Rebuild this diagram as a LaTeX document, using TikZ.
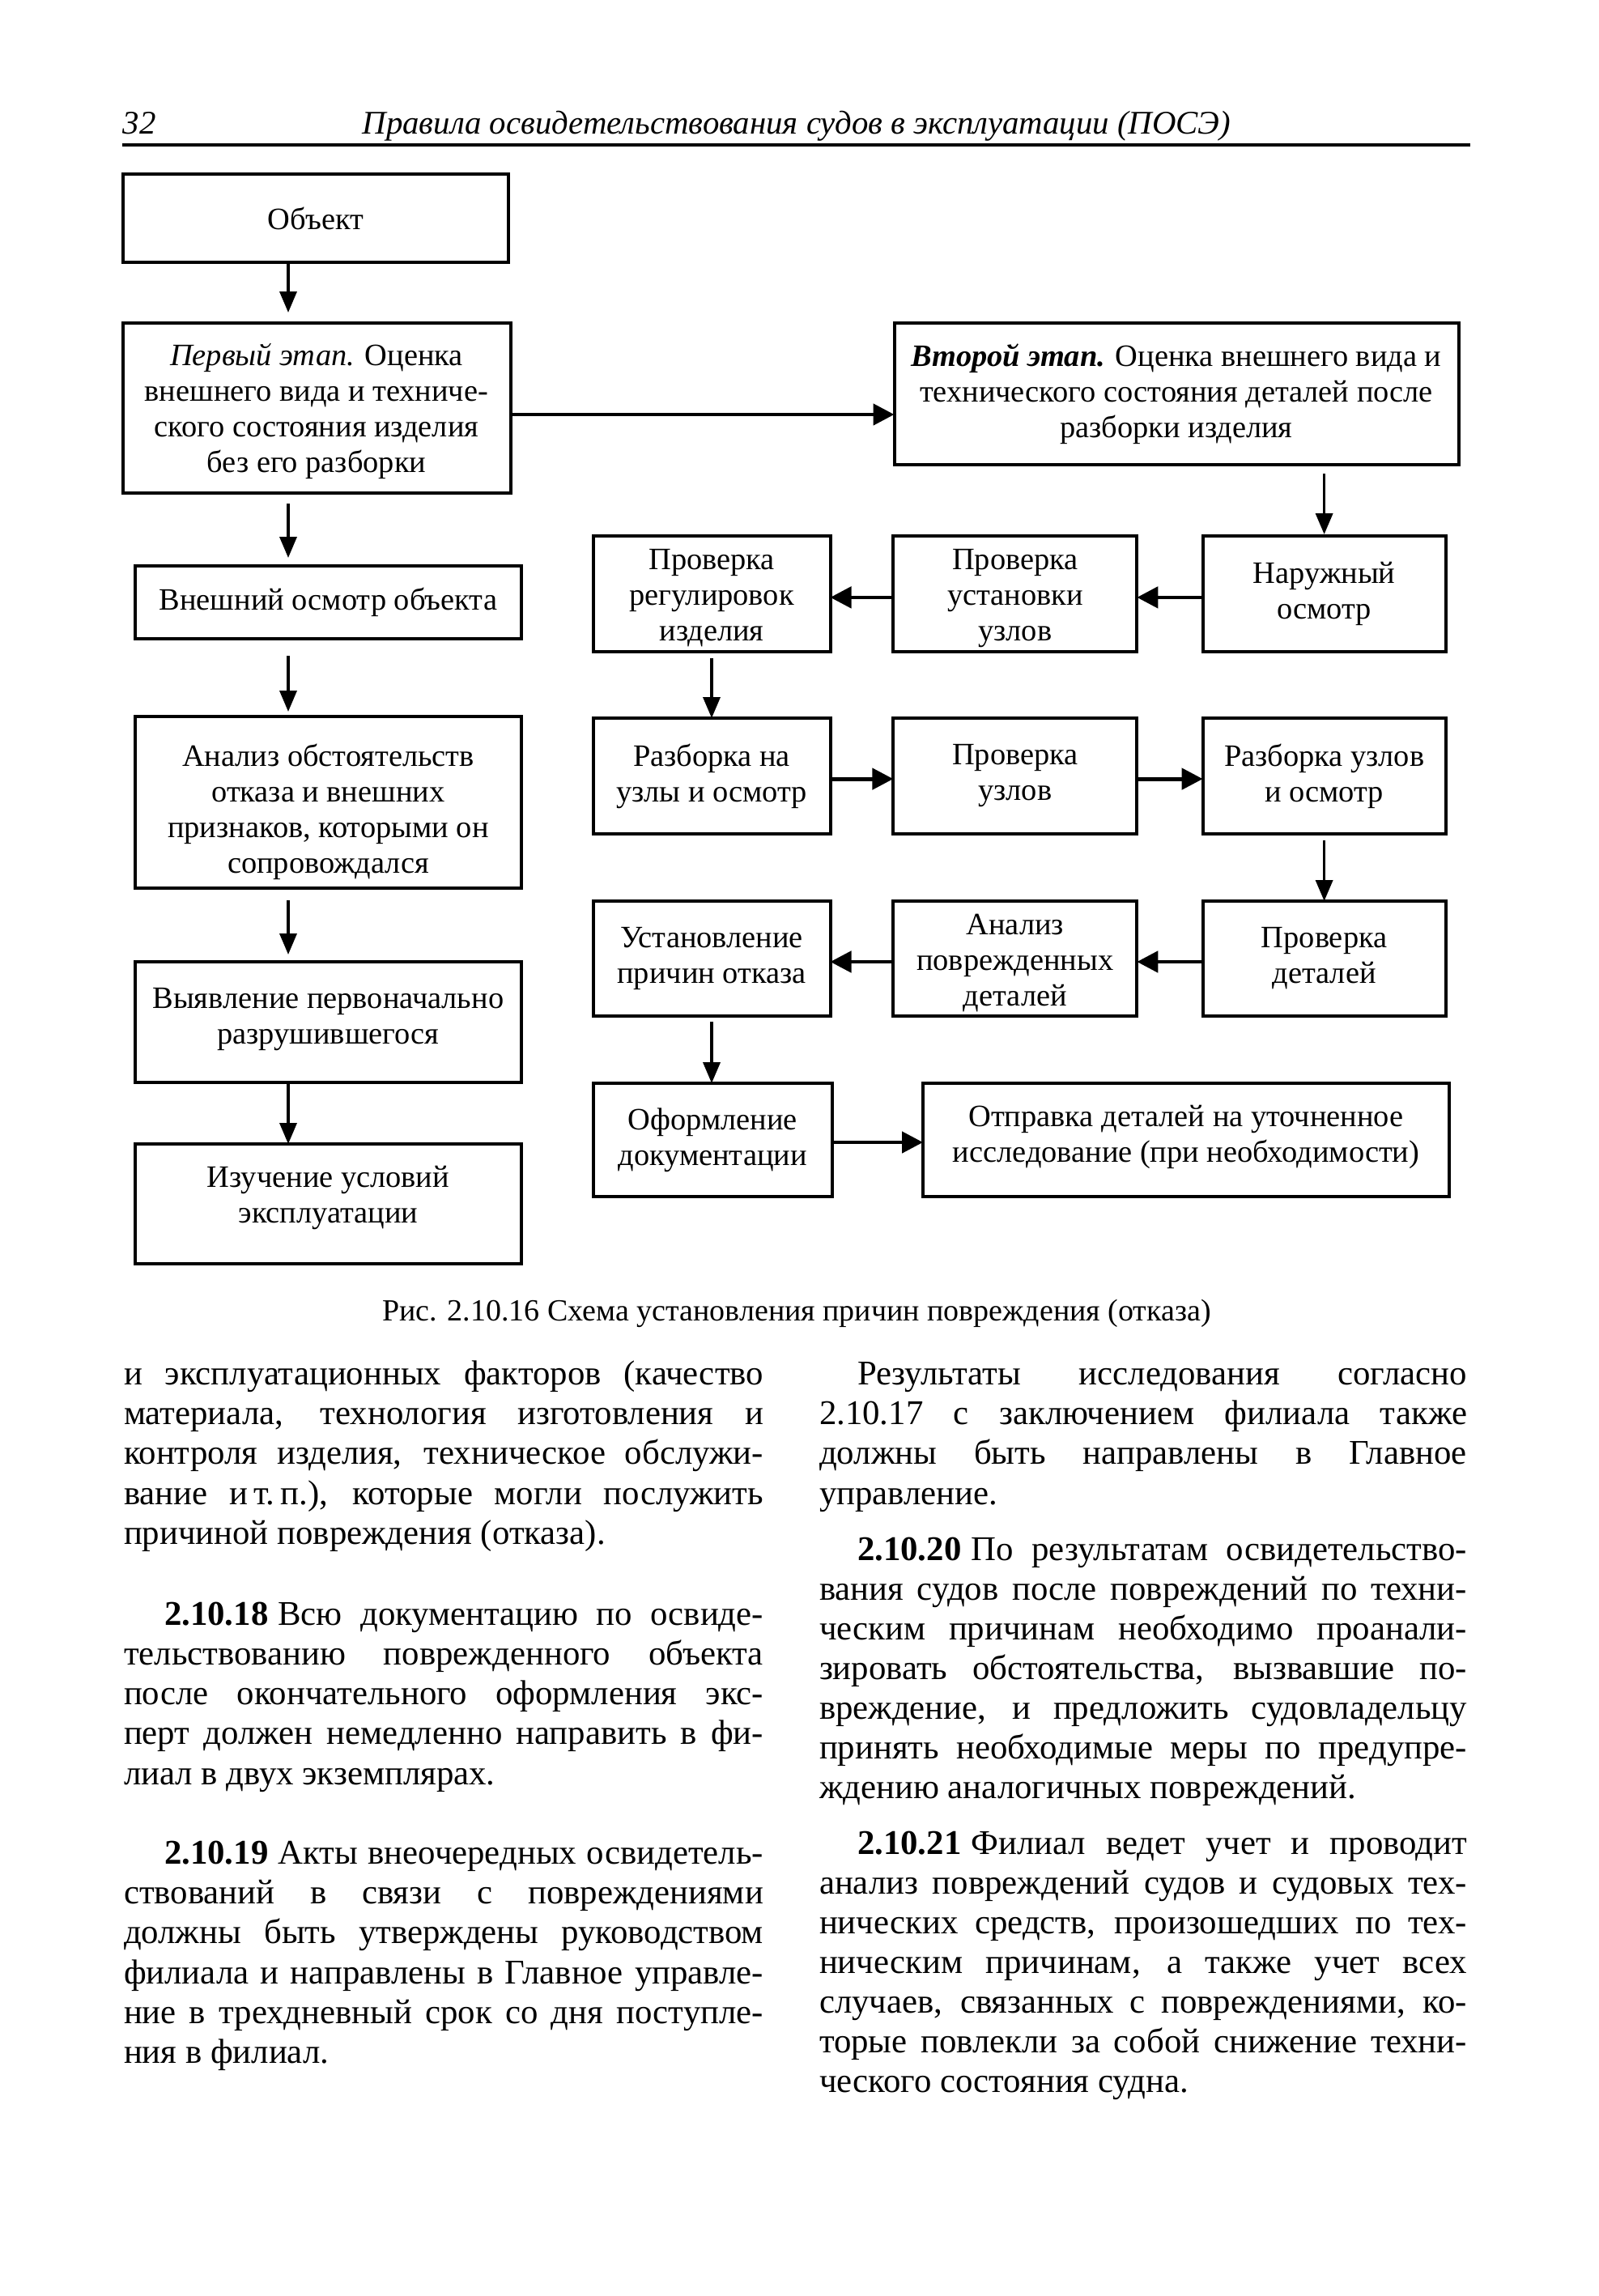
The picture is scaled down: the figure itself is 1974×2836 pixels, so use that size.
\documentclass[tikz,border=0pt]{standalone}
\usepackage{fontspec}
\setmainfont{Liberation Serif}
\usetikzlibrary{arrows.meta}
\newcommand\bodyfont{\fontsize{10.7}{12.3}\selectfont}
\newcommand\boxfont{\fontsize{9.6}{11}\selectfont}
\newcommand\capfont{\fontsize{9.5}{11}\selectfont}
\newcommand\headfont{\fontsize{10.2}{12}\selectfont\itshape}
\newcommand\jl[2]{\hbox to #1{\spaceskip=.25em plus 1fil minus .08em\relax #2}}
\newcommand\nm[1]{\textbf{#1}\hskip 3pt\relax}
\newcommand\lowr[2]{\raisebox{#1}[\height][\depth]{\begin{tabular}{@{}c@{}}#2\end{tabular}}}
\begin{document}
\begin{tikzpicture}[x=0.25pt,y=-0.25pt,
  box/.style={draw, line width=1pt, rectangle, inner sep=0pt, outer sep=0pt, align=center, font=\boxfont},
  varr/.style={line width=0.9pt, -{Triangle[length=6.5pt,width=5.25pt]}},
  harr/.style={line width=1.2pt, -{Triangle[length=6.5pt,width=6.5pt]}},
  tl/.style={anchor=base west, inner sep=0pt, outer sep=0pt, font=\bodyfont}]
\useasboundingbox (0,0) rectangle (1974,2836);
\fill[white] (0,0) rectangle (1974,2836);
% header
\node[anchor=base west, inner sep=0pt, font=\headfont] (pg) at (151,166) {32};
\node[anchor=base, inner sep=0pt, font=\headfont] (ttl) at (984,166) {Правила освидетельствования судов в эксплуатации (ПОСЭ)};
\coordinate (rl) at (151,179);
\coordinate (rr) at (1816,179);
\draw[line width=0.8pt] (rl) -- (rr);
% left column boxes
\node[box, minimum width=119pt, minimum height=27.25pt] (obj) at (390,269.5) {Объект};
\node[box, minimum width=119.75pt, minimum height=52.5pt] (p1) at (391,504) {\lowr{-1.2pt}{\textit{Первый этап.} Оценка\\внешнего вида и техниче-\\ского состояния изделия\\без его разборки}};
\node[box, minimum width=174.25pt, minimum height=43.75pt] (p2) at (1453,486.5) {\textbf{\textit{Второй этап.}} Оценка внешнего вида и\\технического состояния деталей после\\разборки изделия};
\node[box, minimum width=119.4pt, minimum height=22.5pt] (vn) at (405.4,744) {Внешний осмотр объекта};
\node[box, minimum width=119.4pt, minimum height=53pt] (an) at (405.4,991) {\lowr{-3.2pt}{Анализ обстоятельств\\отказа и внешних\\признаков, которыми он\\сопровождался}};
\node[box, minimum width=119.4pt, minimum height=37.25pt] (vy) at (405.4,1262.5) {\lowr{1pt}{Выявление первоначально\\разрушившегося}};
\node[box, minimum width=119.4pt, minimum height=37pt] (iz) at (405.4,1487) {\lowr{1.8pt}{Изучение условий\\эксплуатации}};
% right grid
\node[box, minimum width=73.25pt, minimum height=35.75pt] (a1) at (879,733.5) {\lowr{-1.3pt}{Проверка\\регулировок\\изделия}};
\node[box, minimum width=75.25pt, minimum height=35.75pt] (a2) at (1253.8,733.5) {\lowr{-1.3pt}{Проверка\\установки\\узлов}};
\node[box, minimum width=75pt, minimum height=35.75pt] (a3) at (1635.6,733.5) {Наружный\\осмотр};
\node[box, minimum width=73.25pt, minimum height=35.75pt] (b1) at (879,958.5) {Разборка на\\узлы и осмотр};
\node[box, minimum width=75.25pt, minimum height=35.75pt] (b2) at (1253.8,958.5) {Проверка\\узлов};
\node[box, minimum width=75pt, minimum height=35.75pt] (b3) at (1635.6,958.5) {Разборка узлов\\и осмотр};
\node[box, minimum width=73.25pt, minimum height=35.5pt] (c1) at (879,1184) {Установление\\причин отказа};
\node[box, minimum width=75.25pt, minimum height=35.5pt] (c2) at (1253.8,1184) {\lowr{-1.5pt}{Анализ\\поврежденных\\деталей}};
\node[box, minimum width=75pt, minimum height=35.5pt] (c3) at (1635.6,1184) {Проверка\\деталей};
\node[box, minimum width=73.75pt, minimum height=35pt] (of) at (880.2,1408) {Оформление\\документации};
\node[box, minimum width=162.5pt, minimum height=35pt] (ot) at (1465,1408) {\lowr{0.8pt}{Отправка деталей на уточненное\\исследование (при необходимости)}};
% left arrows
\coordinate (lx) at (356,0);
\draw[varr, shorten >=3.25pt] (obj.south -| lx) -- (p1.north -| lx);
\draw[varr, shorten <=3.25pt, shorten >=2.5pt] (p1.south -| lx) -- (vn.north -| lx);
\draw[varr, shorten <=5.25pt, shorten >=1.5pt] (vn.south -| lx) -- (an.north -| lx);
\draw[varr, shorten <=3.75pt, shorten >=2.25pt] (an.south -| lx) -- (vy.north -| lx);
\draw[varr, shorten <=0.5pt] (vy.south -| lx) -- (iz.north -| lx);
% stage arrow
\coordinate (hy) at (0,512);
\draw[harr] (p1.east |- hy) -- (p2.west |- hy);
% right verticals
\draw[varr, shorten <=2.75pt, shorten >=0.5pt] (p2.south -| a3.north) -- (a3.north);
\draw[varr, shorten <=2pt] (a1.south) -- (b1.north);
\draw[varr, shorten <=2pt] (b3.south) -- (c3.north);
\draw[varr, shorten <=1.75pt] (c1.south) -- (of.north -| c1.south);
% row arrows
\draw[harr] ([yshift=-1.1pt]a3.west) -- ([yshift=-1.1pt]a2.east);
\draw[harr] ([yshift=-1.1pt]a2.west) -- ([yshift=-1.1pt]a1.east);
\draw[harr] ([yshift=-0.9pt]b1.east) -- ([yshift=-0.9pt]b2.west);
\draw[harr] ([yshift=-0.9pt]b2.east) -- ([yshift=-0.9pt]b3.west);
\draw[harr] ([yshift=-1pt]c3.west) -- ([yshift=-1pt]c2.east);
\draw[harr] ([yshift=-1pt]c2.west) -- ([yshift=-1pt]c1.east);
\draw[harr] ([yshift=-0.75pt]of.east) -- ([yshift=-0.75pt]ot.west);
% caption
\node[anchor=base, inner sep=0pt, font=\capfont] (cap) at (984,1631) {Рис. 2.10.16 Схема установления причин повреждения (отказа)};
% left column text
\node[tl] (la1) at (153,1710) {\jl{197.5pt}{и эксплуатационных факторов (качество}};
\node[tl] (la2) at (153,1759) {\jl{197.5pt}{материала, технология изготовления и}};
\node[tl] (la3) at (153,1808) {\jl{197.5pt}{контроля изделия, техническое обслужи-}};
\node[tl] (la4) at (153,1858) {\jl{197.5pt}{вание и\,т.\,п.), которые могли послужить}};
\node[tl] (la5) at (153,1907) {причиной повреждения (отказа).};
\node[tl] (lb1) at (153,2007) {\jl{197.5pt}{\hskip12.5pt\nm{2.10.18}Всю документацию по освиде-}};
\node[tl] (lb2) at (153,2056) {\jl{197.5pt}{тельствованию поврежденного объекта}};
\node[tl] (lb3) at (153,2105) {\jl{197.5pt}{после окончательного оформления экс-}};
\node[tl] (lb4) at (153,2154) {\jl{197.5pt}{перт должен немедленно направить в фи-}};
\node[tl] (lb5) at (153,2204) {лиал в двух экземплярах.};
\node[tl] (lc1) at (153,2302) {\jl{197.5pt}{\hskip12.5pt\nm{2.10.19}Акты внеочередных освидетель-}};
\node[tl] (lc2) at (153,2351) {\jl{197.5pt}{ствований в связи с повреждениями}};
\node[tl] (lc3) at (153,2400) {\jl{197.5pt}{должны быть утверждены руководством}};
\node[tl] (lc4) at (153,2450) {\jl{197.5pt}{филиала и направлены в Главное управле-}};
\node[tl] (lc5) at (153,2499) {\jl{197.5pt}{ние в трехдневный срок со дня поступле-}};
\node[tl] (lc6) at (153,2548) {ния в филиал.};
% right column text
\node[tl] (ra1) at (1012,1710) {\jl{200pt}{\hskip11.75pt Результаты исследования согласно}};
\node[tl] (ra2) at (1012,1759) {\jl{200pt}{2.10.17 с заключением филиала также}};
\node[tl] (ra3) at (1012,1808) {\jl{200pt}{должны быть направлены в Главное}};
\node[tl] (ra4) at (1012,1858) {управление.};
\node[tl] (rb1) at (1012,1927) {\jl{200pt}{\hskip11.75pt\nm{2.10.20}По результатам освидетельство-}};
\node[tl] (rb2) at (1012,1976) {\jl{200pt}{вания судов после повреждений по техни-}};
\node[tl] (rb3) at (1012,2025) {\jl{200pt}{ческим причинам необходимо проанали-}};
\node[tl] (rb4) at (1012,2074) {\jl{200pt}{зировать обстоятельства, вызвавшие по-}};
\node[tl] (rb5) at (1012,2123) {\jl{200pt}{вреждение, и предложить судовладельцу}};
\node[tl] (rb6) at (1012,2172) {\jl{200pt}{принять необходимые меры по предупре-}};
\node[tl] (rb7) at (1012,2221) {ждению аналогичных повреждений.};
\node[tl] (rc1) at (1012,2290) {\jl{200pt}{\hskip11.75pt\nm{2.10.21}Филиал ведет учет и проводит}};
\node[tl] (rc2) at (1012,2339) {\jl{200pt}{анализ повреждений судов и судовых тех-}};
\node[tl] (rc3) at (1012,2388) {\jl{200pt}{нических средств, произошедших по тех-}};
\node[tl] (rc4) at (1012,2437) {\jl{200pt}{ническим причинам, а также учет всех}};
\node[tl] (rc5) at (1012,2486) {\jl{200pt}{случаев, связанных с повреждениями, ко-}};
\node[tl] (rc6) at (1012,2535) {\jl{200pt}{торые повлекли за собой снижение техни-}};
\node[tl] (rc7) at (1012,2584) {ческого состояния судна.};
\end{tikzpicture}
\end{document}
